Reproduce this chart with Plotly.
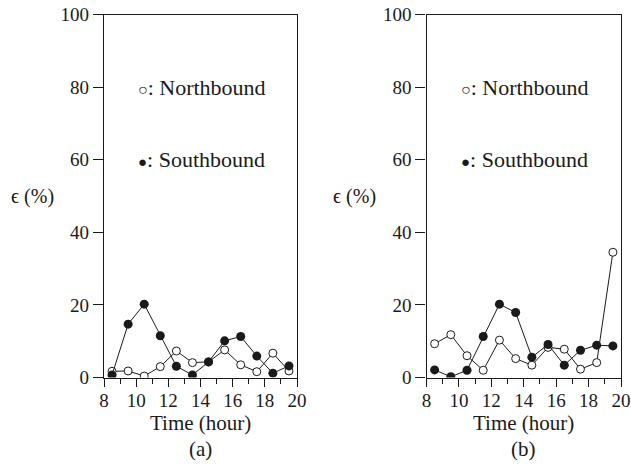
import plotly.graph_objects as go

hours = [8.5, 9.5, 10.5, 11.5, 12.5, 13.5, 14.5, 15.5, 16.5, 17.5, 18.5, 19.5]
a_north = [1.7, 1.8, 0.4, 3.0, 7.3, 4.1, 4.3, 7.6, 3.5, 1.6, 6.7, 1.8]
a_south = [0.7, 14.7, 20.2, 11.5, 3.1, 0.7, 4.3, 10.1, 11.3, 5.9, 1.2, 3.2]
b_north = [9.3, 11.8, 6.0, 2.0, 10.3, 5.2, 3.4, 8.3, 7.8, 2.3, 4.1, 34.5]
b_south = [2.1, 0.2, 2.0, 11.3, 20.2, 17.9, 5.6, 9.1, 3.4, 7.5, 8.9, 8.7]
x_ticks = [8, 10, 12, 14, 16, 18, 20]
y_ticks = [0, 20, 40, 60, 80, 100]
panel_labels = ["(a)", "(b)"]

FONT = "Liberation Serif"
INK = "#1a1a1a"

fig = go.Figure()
panels = [(a_north, a_south, "x", "y"), (b_north, b_south, "x2", "y2")]
for north, south, xa, ya in panels:
    fig.add_trace(go.Scatter(x=hours, y=north, mode="lines+markers", xaxis=xa, yaxis=ya,
                             line=dict(color=INK, width=1),
                             marker=dict(symbol="circle", size=8, color="white",
                                         line=dict(color=INK, width=1)),
                             showlegend=False))
    fig.add_trace(go.Scatter(x=hours, y=south, mode="lines+markers", xaxis=xa, yaxis=ya,
                             line=dict(color=INK, width=1),
                             marker=dict(symbol="circle", size=9, color=INK,
                                         line=dict(color=INK, width=0)),
                             showlegend=False))

W, H = 631, 468
dom_a = [104 / W, 297 / W]
dom_b = [426.5 / W, 621 / W]
ydom = [(H - 377.5) / H, (H - 14.5) / H]

def xax(dom, anchor):
    return dict(domain=dom, anchor=anchor, range=[8, 20], tickvals=x_ticks,
                ticks="outside", ticklen=8, tickwidth=1, tickcolor=INK,
                showline=True, linecolor=INK, linewidth=1.3, mirror=True,
                showgrid=False, zeroline=False, automargin=False,
                ticklabelstandoff=-2,
                tickfont=dict(family=FONT, size=19, color=INK),
                minor=dict(dtick=1, tick0=8, ticks="outside", ticklen=5, tickwidth=1,
                           tickcolor=INK, showgrid=False))

def yax(anchor):
    return dict(domain=ydom, anchor=anchor, range=[0, 100], tickvals=y_ticks,
                ticks="outside", ticklen=10, tickwidth=1, tickcolor=INK,
                showline=True, linecolor=INK, linewidth=1.3, mirror=True,
                showgrid=False, zeroline=False, automargin=False,
                tickfont=dict(family=FONT, size=19, color=INK))

fig.update_layout(
    width=W, height=H, margin=dict(l=0, r=0, t=0, b=0, autoexpand=False),
    paper_bgcolor="white", plot_bgcolor="white",
    font=dict(family=FONT, color=INK),
    xaxis=xax(dom_a, "y"), yaxis=yax("x"),
    xaxis2=xax(dom_b, "y2"), yaxis2=yax("x2"),
)

anns = []
for i, (xa, ya, dom) in enumerate([("x", "y", dom_a), ("x2", "y2", dom_b)]):
    cx = (dom[0] + dom[1]) / 2
    anns += [
        dict(x=10, y=80, xref=xa, yref=ya, xanchor="left", yanchor="middle",
             text="<span style='font-size:16px'>○</span>: Northbound", showarrow=False,
             font=dict(family=FONT, size=22, color=INK)),
        dict(x=10, y=60, xref=xa, yref=ya, xanchor="left", yanchor="middle",
             text="<span style='font-size:15px'>●</span>: Southbound", showarrow=False,
             font=dict(family=FONT, size=22, color=INK)),
        dict(x=dom[0] - 72 / W, y=50, xref="paper", yref=ya, xanchor="center", yanchor="middle",
             text="ϵ (%)", showarrow=False, font=dict(family=FONT, size=20, color=INK)),
        dict(x=cx, y=(H - 423) / H, xref="paper", yref="paper", xanchor="center", yanchor="middle",
             text="Time (hour)", showarrow=False, font=dict(family=FONT, size=21, color=INK)),
        dict(x=cx, y=(H - 449) / H, xref="paper", yref="paper", xanchor="center", yanchor="middle",
             text=panel_labels[i], showarrow=False, font=dict(family=FONT, size=21, color=INK)),
    ]
fig.update_layout(annotations=anns)

fig.write_html("out.html")
